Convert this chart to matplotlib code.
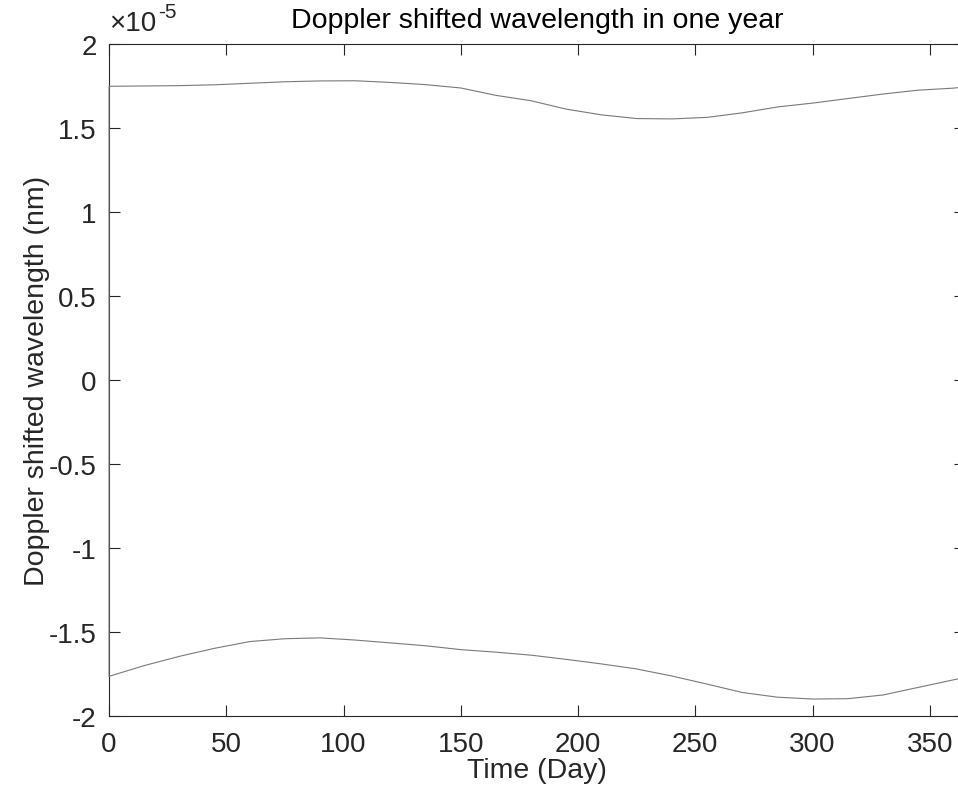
import numpy as np
import matplotlib
matplotlib.use('Agg')
import matplotlib.pyplot as plt

matplotlib.rc('font', family=['Liberation Sans', 'DejaVu Sans'], size=20)
matplotlib.rc('axes', unicode_minus=False, linewidth=0.8, edgecolor='#262626')

# days of the year and Doppler shift (in units of 1e-5 nm)
days = [0, 15, 30, 45, 60, 75, 90, 105, 120, 135, 150, 165, 180,
        195, 210, 225, 240, 255, 270, 285, 300, 315, 330, 345, 360, 365]
upper_shift = [1.748, 1.750, 1.752, 1.757, 1.766, 1.775, 1.780, 1.781, 1.771,
               1.758, 1.738, 1.694, 1.662, 1.612, 1.578, 1.556, 1.554, 1.563,
               1.590, 1.625, 1.648, 1.675, 1.702, 1.725, 1.737, 1.745]
lower_shift = [-1.764, -1.700, -1.645, -1.597, -1.557, -1.540, -1.535, -1.548,
               -1.565, -1.582, -1.605, -1.620, -1.638, -1.663, -1.690, -1.720,
               -1.762, -1.810, -1.860, -1.888, -1.899, -1.897, -1.875, -1.830,
               -1.785, -1.770]

scale = 1e-5

# one trace: lower branch back to day 0, then the upper branch forward
x = np.concatenate([days[::-1], days])
y = np.concatenate([lower_shift[::-1], upper_shift]) * scale

fig = plt.figure(figsize=(9.58, 8.03), dpi=100)
ax = fig.add_axes([0.1138, 0.1071, 0.8935, 0.8369])

ax.plot(x, y, color='#7a7a7a', linewidth=0.8, zorder=5, clip_on=False)

ax.set_xlim(0, 365)
ax.set_ylim(-2e-5, 2e-5)
ax.set_xticks(np.arange(0, 351, 50))
ax.set_yticks(np.arange(-2, 2.01, 0.5) * scale)
ax.set_yticklabels(['-2', '-1.5', '-1', '-0.5', '0', '0.5', '1', '1.5', '2'])
ax.tick_params(direction='in', length=8, width=0.8, colors='#262626',
               top=True, right=True, labelsize=20)
ax.tick_params(axis='x', pad=11)
ax.tick_params(axis='y', pad=9)

# MATLAB style exponent label
ax.text(0.0, 1.012, '\u00d710', transform=ax.transAxes,
        fontsize=20, color='#262626', ha='left', va='bottom')
ax.text(0.0575, 1.034, '-5', transform=ax.transAxes,
        fontsize=15, color='#262626', ha='left', va='bottom')

ax.set_title('Doppler shifted wavelength in one year', fontsize=20.5,
             color='black', pad=12)
ax.set_xlabel('Time (Day)', fontsize=20.5, color='#262626', labelpad=0)
ax.set_ylabel('Doppler shifted wavelength (nm)', fontsize=20.5,
              color='#262626', labelpad=-1)

plt.savefig('out.png', dpi=100)
plt.close()
